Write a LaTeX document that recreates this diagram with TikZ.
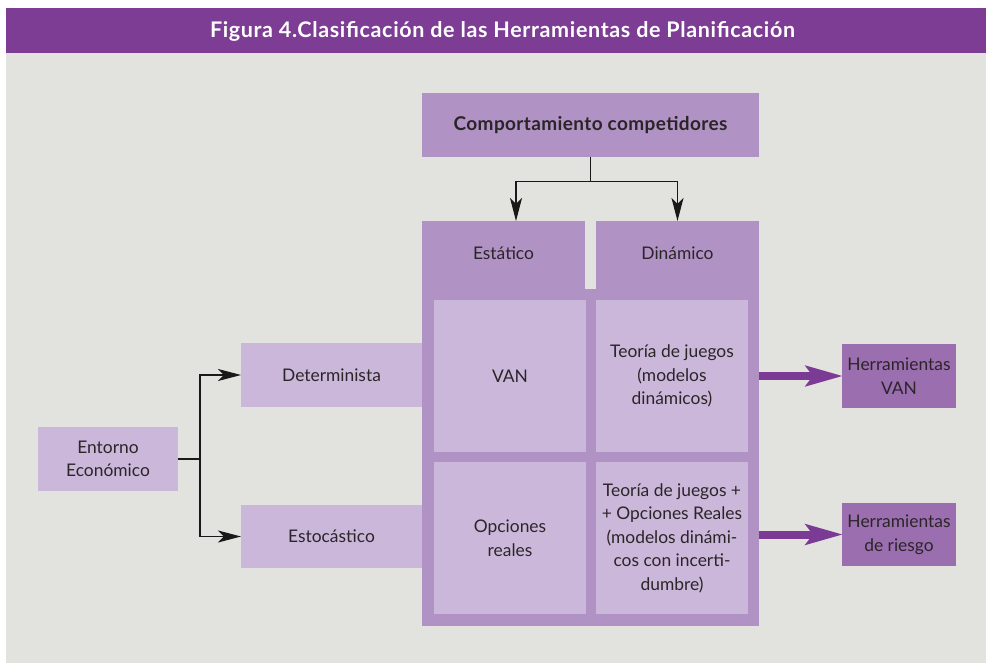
\documentclass[tikz,border=0pt]{standalone}
\usepackage{fontspec}
\setmainfont{Lato}
\usetikzlibrary{arrows.meta}
\definecolor{titlepurple}{HTML}{7D3D94}
\definecolor{bggray}{HTML}{E2E3DE}
\definecolor{darkcell}{HTML}{B092C4}
\definecolor{lightcell}{HTML}{CBB7DA}
\definecolor{herrcell}{HTML}{9B6EB0}
\definecolor{arrowpurple}{HTML}{7B3A94}
\definecolor{txt}{HTML}{2B2528}
\newcommand{\fsmain}{\fontsize{17.4}{23.5}\selectfont}
\tikzset{
  base/.style={inner sep=0pt, outer sep=0pt, align=center, text=txt, font=\fsmain},
  lightbox/.style={base, fill=lightcell},
  darkbox/.style={base, fill=darkcell},
  herrbox/.style={base, fill=herrcell},
  conn/.style={draw=black!90, line width=1.1pt},
  connarrow/.style={conn, -{Stealth[length=23pt,width=12pt,inset=6pt]}},
  bigarrow/.style={draw=arrowpurple, line width=8pt, -{Stealth[length=37pt,width=20pt,inset=7pt]}, shorten >=-1pt}
}
\begin{document}
\begin{tikzpicture}[x=1pt,y=-1pt]
\useasboundingbox (0,0) rectangle (986,663);
\fill[bggray] (6,53) rectangle (986,663);
\node[base, fill=titlepurple, minimum width=980pt, minimum height=45pt] (titlebar) at (496,30.5) {};
\node[text=white, font=\fontsize{21.5}{24}\selectfont\bfseries\addfontfeature{LetterSpace=3}, inner sep=0pt] (title) at (502.5,31) {Figura 4.Clasificación de las Herramientas de Planificación};
% top box
\node[darkbox, font=\fontsize{19}{23}\selectfont\bfseries\addfontfeature{LetterSpace=2}, minimum width=337pt, minimum height=64pt] (comp) at (590.5,125) {Comportamiento competidores};
% body
\node[darkbox, minimum width=337pt, minimum height=337pt] (body) at (590.5,457.5) {};
\node[darkbox, minimum width=163pt, minimum height=70pt] (est) at (503.5,256) {};
\node[darkbox, minimum width=163pt, minimum height=70pt] (din) at (677.5,256) {};
\node[base] (estt) at (503.5,253) {Estático};
\node[base] (dint) at (677.5,253) {Dinámico};
% cells
\node[lightbox, minimum width=152pt, minimum height=152pt] (van) at (510,376) {VAN};
\node[lightbox, minimum width=152pt, minimum height=152pt] (tj) at (672,376) {Teoría de juegos\\(modelos\\dinámicos)};
\node[lightbox, minimum width=152pt, minimum height=152pt] (opr) at (510,538) {Opciones\\reales};
\node[lightbox, minimum width=152pt, minimum height=152pt] (tjor) at (672,538) {Teoría de juegos +\\+ Opciones Reales\\(modelos dinámi-\\cos con incerti-\\dumbre)};
% left boxes
\node[lightbox, minimum width=181pt, minimum height=64pt] (det) at (331.5,375) {Determinista};
\node[lightbox, minimum width=181pt, minimum height=63pt] (sto) at (331.5,536.5) {Estocástico};
\node[lightbox, minimum width=140pt, minimum height=64pt] (ent) at (108,459) {Entorno\\Económico};
% right boxes
\node[herrbox, minimum width=114pt, minimum height=64pt] (hv) at (899,376) {Herramientas\\VAN};
\node[herrbox, minimum width=114pt, minimum height=63pt] (hr) at (899,534.5) {Herramientas\\de riesgo};
% connectors top
\coordinate (tfork) at (590.5,181.5);
\draw[conn] (comp.south) -- (tfork);
\draw[connarrow] (tfork) -| ([xshift=12.5pt]est.north);
\draw[connarrow] (tfork) -| (din.north);
% connectors left
\coordinate (efork) at (200,459);
\draw[conn] (ent.east) -- (efork);
\draw[connarrow] (efork) |- (det.west);
\draw[connarrow] (efork) |- (sto.west);
% purple arrows
\draw[bigarrow] (hv.west -| body.east) -- (hv.west);
\draw[bigarrow] (hr.west -| body.east) -- (hr.west);
\end{tikzpicture}
\end{document}
